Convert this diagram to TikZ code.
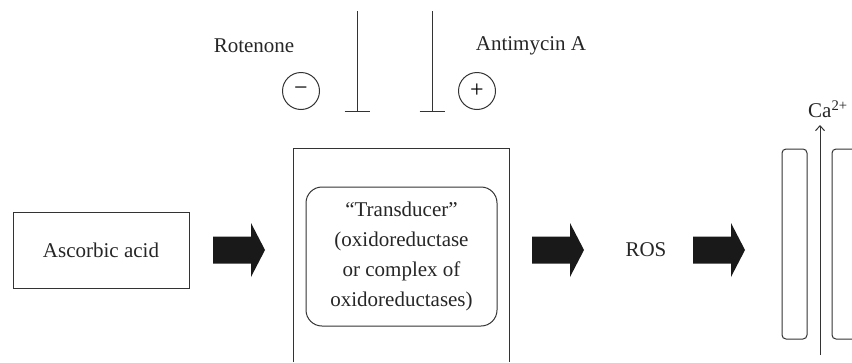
\documentclass[tikz,border=0pt]{standalone}
\usepackage{fontspec}
\setmainfont{Liberation Serif}
\usetikzlibrary{arrows.meta}
\begin{document}
\begin{tikzpicture}[x=1pt,y=-1pt,
  lbl/.style={inner sep=0pt,font=\fontsize{21}{30}\selectfont,text=black!85},
  box/.style={draw=black!80,line width=1pt},
  sign/.style={circle,draw=black!80,line width=1pt,minimum size=37pt,inner sep=0pt,font=\fontsize{24}{28}\selectfont},
  inhib/.style={draw=black!80,line width=1pt},
  memb/.style={draw=black!80,line width=1pt,rounded corners=4pt}]
\useasboundingbox (0,0) rectangle (852,362);
% Ascorbic acid box
\node[box,lbl,minimum width=176pt,minimum height=76pt] (asc) at (101,250) {Ascorbic acid};
% big box (open at bottom)
\coordinate (bbl) at (293,362);
\coordinate (btl) at (293,148);
\coordinate (btr) at (509,148);
\coordinate (bbr) at (509,362);
\draw[box] (bbl) -- (btl) -- (btr) -- (bbr);
% transducer
\node[box,rounded corners=16pt,minimum width=191pt,minimum height=139pt,lbl,align=center] (tr) at (401.5,256.5)
  {\textquotedblleft Transducer\textquotedblright\\(oxidoreductase\\or complex of\\oxidoreductases)};
% ROS
\node[lbl] (ros) at (646,250) {ROS};
% thick arrows
\foreach \n/\x in {a1/213,a2/532,a3/693}{
  \coordinate (\n) at (\x,250);
  \fill[black!90] (\n) ++(0,-13.5) -- ++(38,0) -- ++(0,-13.5) -- ++(14,27) -- ++(-14,27) -- ++(0,-13.5) -- ++(-38,0) -- cycle;
}
% inhibitors
\node[lbl] (rot) at (254,46) {Rotenone};
\node[lbl] (ant) at (531,46) {Antimycin A};
\node[sign] (minus) at (301,91) {\textminus};
\node[sign] (plus) at (477,91) {+};
\coordinate (i1t) at (357,11);
\coordinate (i1b) at (357,111);
\coordinate (i2t) at (432,11);
\coordinate (i2b) at (432,111);
\draw[inhib] (i1t) -- (i1b);
\draw[inhib] (i1b) ++(-12.5,0) -- ++(25,0);
\draw[inhib] (i2t) -- (i2b);
\draw[inhib] (i2b) ++(-12.5,0) -- ++(25,0);
% membrane
\draw[memb] (782,149) rectangle (807,339);
\draw[memb] (856,149) -- (832,149) -- (832,339) -- (856,339);
\coordinate (cab) at (820,355);
\coordinate (cat) at (820,125);
\draw[inhib,-{Straight Barb[length=5pt,width=9pt]}] (cab) -- (cat);
\node[lbl,anchor=west] (ca) at (808,109) {Ca\textsuperscript{2+}};
\end{tikzpicture}
\end{document}
